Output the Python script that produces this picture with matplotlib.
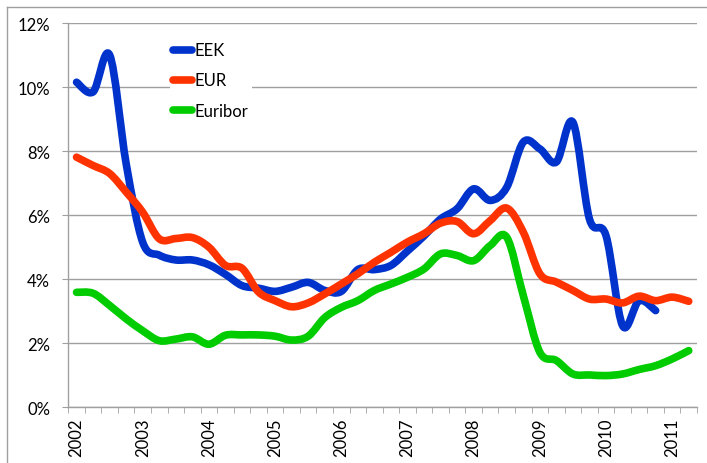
import matplotlib
matplotlib.use('Agg')
import matplotlib.pyplot as plt
import numpy as np
from matplotlib.path import Path
from matplotlib.patches import PathPatch
from matplotlib.lines import Line2D
from matplotlib.ticker import FixedLocator, FuncFormatter

plt.rcParams['font.family'] = ['Lato', 'DejaVu Sans']

# quarterly data, 2002 Q1 .. 2011 Q2 (percent)
years = ['2002', '2003', '2004', '2005', '2006', '2007', '2008', '2009', '2010', '2011']
n_quarters = 38

eek = [10.15, 9.85, 11.0, 7.6, 5.15, 4.75, 4.6, 4.6, 4.45, 4.15,
       3.8, 3.72, 3.62, 3.75, 3.9, 3.65, 3.62, 4.3, 4.3, 4.43,
       4.88, 5.35, 5.88, 6.2, 6.82, 6.46, 6.87, 8.28, 8.07, 7.66,
       8.9, 5.88, 5.36, 2.55, 3.33, 3.02]
eur = [7.81, 7.55, 7.3, 6.72, 6.09, 5.26, 5.27, 5.3, 5.0, 4.43,
       4.34, 3.6, 3.33, 3.14, 3.26, 3.54, 3.85, 4.17, 4.53, 4.84,
       5.16, 5.42, 5.75, 5.8, 5.42, 5.83, 6.22, 5.47, 4.17, 3.91,
       3.65, 3.38, 3.38, 3.26, 3.47, 3.33, 3.44, 3.31]
euribor = [3.59, 3.56, 3.18, 2.76, 2.39, 2.08, 2.13, 2.2, 1.97, 2.25,
           2.26, 2.26, 2.22, 2.1, 2.22, 2.8, 3.12, 3.33, 3.65, 3.85,
           4.06, 4.32, 4.79, 4.74, 4.58, 5.05, 5.31, 3.49, 1.72, 1.46,
           1.04, 1.01, 0.99, 1.04, 1.18, 1.3, 1.51, 1.77]

series = [eek, eur, euribor]
names = ['EEK', 'EUR', 'Euribor']
colors = ['#0033CC', '#FF3300', '#00CC00']


# Excel-like smoothed line: bezier segments through the points
def smooth_path(ys):
    xs = np.arange(len(ys)) + 0.5
    pts = np.column_stack([xs, ys])
    n = len(pts)
    verts = [pts[0]]
    codes = [Path.MOVETO]
    for i in range(n - 1):
        p0 = pts[i - 1] if i > 0 else pts[i]
        p1 = pts[i]
        p2 = pts[i + 1]
        p3 = pts[i + 2] if i + 2 < n else pts[i + 1]
        verts += [p1 + (p2 - p0) / 6, p2 - (p3 - p1) / 6, p2]
        codes += [Path.CURVE4] * 3
    return Path(verts, codes)


W, H = 707, 464
fig = plt.figure(figsize=(W / 100, H / 100), dpi=100)
left, right, top, bottom = 68.3, 697, 24, 408.3
ax = fig.add_axes([left / W, 1 - bottom / H, (right - left) / W, (bottom - top) / H])

grid_c = '#A0A0A0'
ax.set_xlim(0, n_quarters)
ax.set_ylim(0, 12)
ax.set_yticks(range(0, 13, 2))
ax.yaxis.set_major_formatter(FuncFormatter(lambda v, p: f'{v:.0f}%'))
ax.grid(axis='y', color=grid_c, lw=1.0)
ax.set_axisbelow(True)

ax.set_xticks([i * 4 + 0.5 for i in range(len(years))])
ax.set_xticklabels(years, rotation=90)
ax.xaxis.set_minor_locator(FixedLocator(range(0, n_quarters + 1)))
ax.tick_params(axis='x', which='major', length=0, pad=7, labelsize=12)
ax.tick_params(axis='x', which='minor', length=4, color=grid_c, direction='out')
ax.tick_params(axis='y', length=4, color=grid_c, pad=9, labelsize=12)

for s in ['top', 'right']:
    ax.spines[s].set_visible(False)
for s in ['left', 'bottom']:
    ax.spines[s].set_color(grid_c)
    ax.spines[s].set_linewidth(1.0)

handles = []
for ys, name, c in zip(series, names, colors):
    ax.add_patch(PathPatch(smooth_path(ys), fill=False, edgecolor=c, lw=5.5,
                           capstyle='round', joinstyle='round'))
    handles.append(Line2D([], [], color=c, lw=5.5, solid_capstyle='round'))

leg = ax.legend(handles, names, loc='center left',
                bbox_to_anchor=(170 / W, 1 - 81.5 / H), bbox_transform=fig.transFigure,
                fontsize=12, frameon=True, fancybox=False, handlelength=1.1,
                handletextpad=0.2, labelspacing=0.85, borderpad=0.2, borderaxespad=0)
leg.get_frame().set_facecolor('white')
leg.get_frame().set_edgecolor('none')
leg.get_frame().set_alpha(1)

# chart area border
fig.add_artist(Line2D([7 / W, 1], [1 - 8.3 / H, 1 - 8.3 / H], color=grid_c, lw=1.0))
fig.add_artist(Line2D([7 / W, 7 / W], [0, 1 - 8.3 / H], color=grid_c, lw=1.0))

fig.savefig('out.png', dpi=100)
